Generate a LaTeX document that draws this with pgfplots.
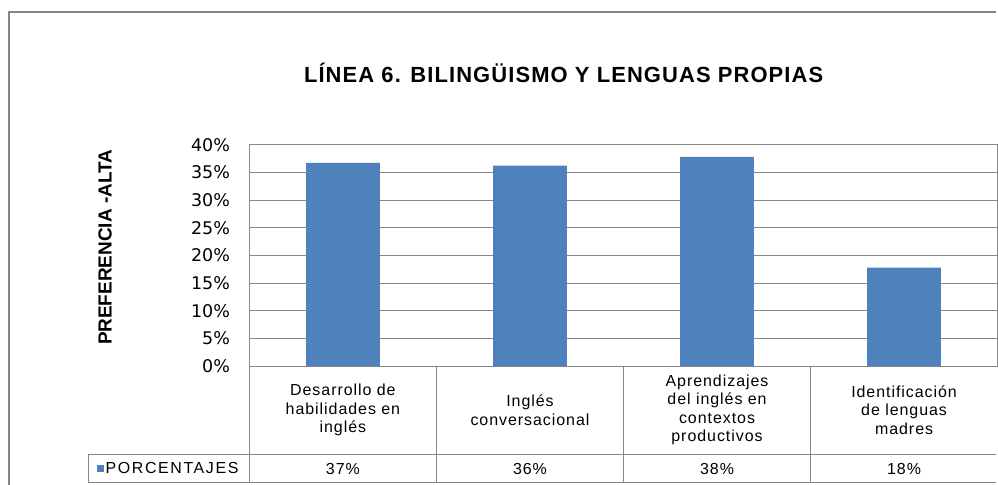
\documentclass[border=0pt]{standalone}
\usepackage{fontspec}
\setmainfont{Liberation Sans}
\newfontfamily\tickfont{DejaVu Sans}
\newfontfamily\spfont[LetterSpace=6]{Liberation Sans}
\newfontfamily\legfont[LetterSpace=10]{Liberation Sans}
\newfontfamily\titlefont[LetterSpace=5]{Liberation Sans}
\usepackage{pgfplots}
\pgfplotsset{compat=1.18}
\definecolor{barblue}{HTML}{4F81BD}
\definecolor{gridgray}{HTML}{878787}
\definecolor{framegray}{HTML}{858585}

\begin{document}
\begin{tikzpicture}
\begin{scope}[x=1pt,y=1pt]
\path[use as bounding box] (0,0) rectangle (998,486);
% outer chart frame
\draw[framegray, line width=2pt] (9.5,0) -- (9.5,474) -- (998,474);
\node[anchor=base, font=\titlefont\fontsize{22}{26}\bfseries\selectfont] at (565,403)
  {LÍNEA 6. BILINGÜISMO Y LENGUAS PROPIAS};
\node[rotate=90, anchor=base, font=\fontsize{19}{22}\bfseries\selectfont] at (112,238)
  {PREFERENCIA -ALTA};
\end{scope}

\begin{axis}[
    at={(250pt,119pt)}, anchor=south west,
    scale only axis,
    width=750pt, height=222pt,
    xmin=-0.5, xmax=3.5,
    ymin=0, ymax=40,
    ybar, bar width=74pt,
    axis line style={gridgray, line width=0.8pt},
    ymajorgrids,
    grid style={gridgray, line width=0.8pt},
    major tick length=0pt,
    ytick={0,5,...,40},
    /pgf/number format/assume math mode=true,
    yticklabel={\pgfmathprintnumber{\tick}\%},
    yticklabel style={font=\tickfont\fontsize{17.5}{19}\selectfont, xshift=-16pt},
    xtick={0,1,2,3},
    xticklabels={{Desarrollo de\\habilidades en\\inglés},
                 {Inglés\\conversacional},
                 {Aprendizajes\\del inglés en\\contextos\\productivos},
                 {Identificación\\de lenguas\\madres}},
    xticklabel style={font=\spfont\fontsize{16}{18.5}\selectfont, align=center,
                      anchor=center, yshift=-44pt},
    extra x ticks={0,1,2,3},
    extra x tick labels={37\%,36\%,38\%,18\%},
    extra x tick style={grid=none, xticklabel style={yshift=-59pt}},
    legend style={at={(axis description cs:-0.108,-0.464)}, anchor=center,
                  draw=none, fill=none, inner sep=0pt,
                  font=\legfont\fontsize{16}{18}\selectfont},
    legend image code/.code={\fill[barblue] (0pt,-3.5pt) rectangle (7pt,3.5pt);},
]
\addplot[fill=barblue, draw=none] coordinates {(0,36.7) (1,36.2) (2,37.8) (3,17.8)};
\addlegendentry{PORCENTAJES}
\end{axis}

% data table grid under the plot
\begin{scope}[x=1pt,y=1pt]
\draw[gridgray, line width=0.8pt]
  (89,31) -- (998,31) (89,2) -- (998,2) (89,2) -- (89,31)
  (250,119) -- (250,2) (437,119) -- (437,2) (625,119) -- (625,2) (812,119) -- (812,2);
\end{scope}
\end{tikzpicture}
\end{document}
